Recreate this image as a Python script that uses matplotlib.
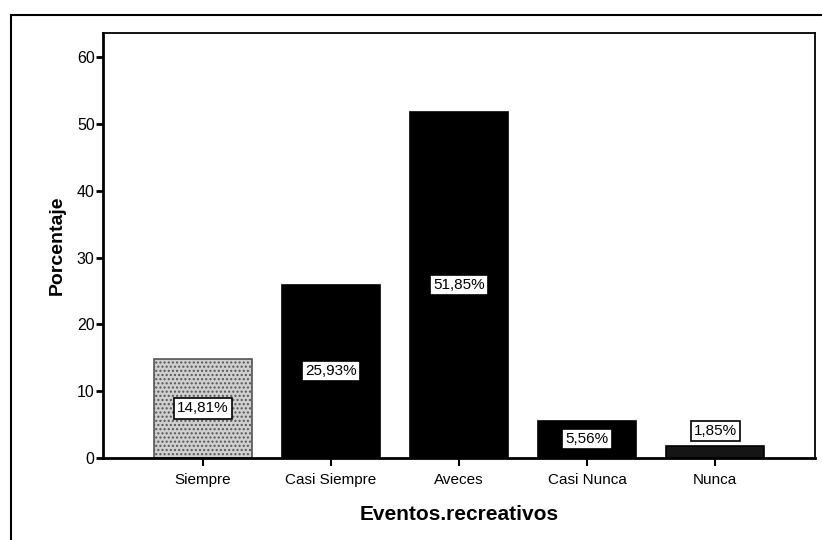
import matplotlib
matplotlib.use("Agg")
import matplotlib.pyplot as plt
from matplotlib.patches import Rectangle

categorias = ["Siempre", "Casi Siempre", "Aveces", "Casi Nunca", "Nunca"]
porcentajes = [14.81, 25.93, 51.85, 5.56, 1.85]
etiquetas = ["14,81%", "25,93%", "51,85%", "5,56%", "1,85%"]

plt.rcParams["font.family"] = ["Liberation Sans", "DejaVu Sans"]

fig = plt.figure(figsize=(8.22, 5.4), dpi=100)
ax = fig.add_axes([0.1253, 0.1519, 0.8662, 0.787])

colores = ["#cfcfcf", "black", "black", "black", "#151515"]
x = range(len(categorias))
barras = ax.bar(x, porcentajes, width=0.766, color=colores, edgecolor="black", linewidth=1.2)
barras[0].set_hatch("....")
barras[0].set_edgecolor("#555555")

# etiquetas en caja blanca: al medio de la barra, salvo la barra muy baja
for i, (v, t) in enumerate(zip(porcentajes, etiquetas)):
    yy = v / 2 if v > 4 else v + 2.2
    ax.text(i, yy, t, ha="center", va="center", fontsize=11,
            bbox=dict(boxstyle="square,pad=0.2", fc="white", ec="black", lw=1.2))

ax.set_xlim(-0.78, 4.78)
ax.set_ylim(0, 63.6)
ax.set_yticks([0, 10, 20, 30, 40, 50, 60])
ax.set_xticks(list(x))
ax.set_xticklabels(categorias, fontsize=11)
ax.tick_params(axis="y", labelsize=11.5, length=5, width=2, direction="out", pad=1)
ax.tick_params(axis="x", length=6, width=1.5, direction="out", pad=5)
for s in ax.spines.values():
    s.set_linewidth(1.3)
ax.spines["left"].set_linewidth(2)
ax.spines["bottom"].set_linewidth(2)

ax.set_ylabel("Porcentaje", fontsize=14, fontweight="bold", labelpad=8)
ax.set_xlabel("Eventos.recreativos", fontsize=15, fontweight="bold", labelpad=13)

# marco exterior de la figura
fig.patches.append(Rectangle((0.0134, -0.05), 1.1, 1.022, transform=fig.transFigure,
                             fill=False, ec="black", lw=1.5))

fig.savefig("out.png", dpi=100)
